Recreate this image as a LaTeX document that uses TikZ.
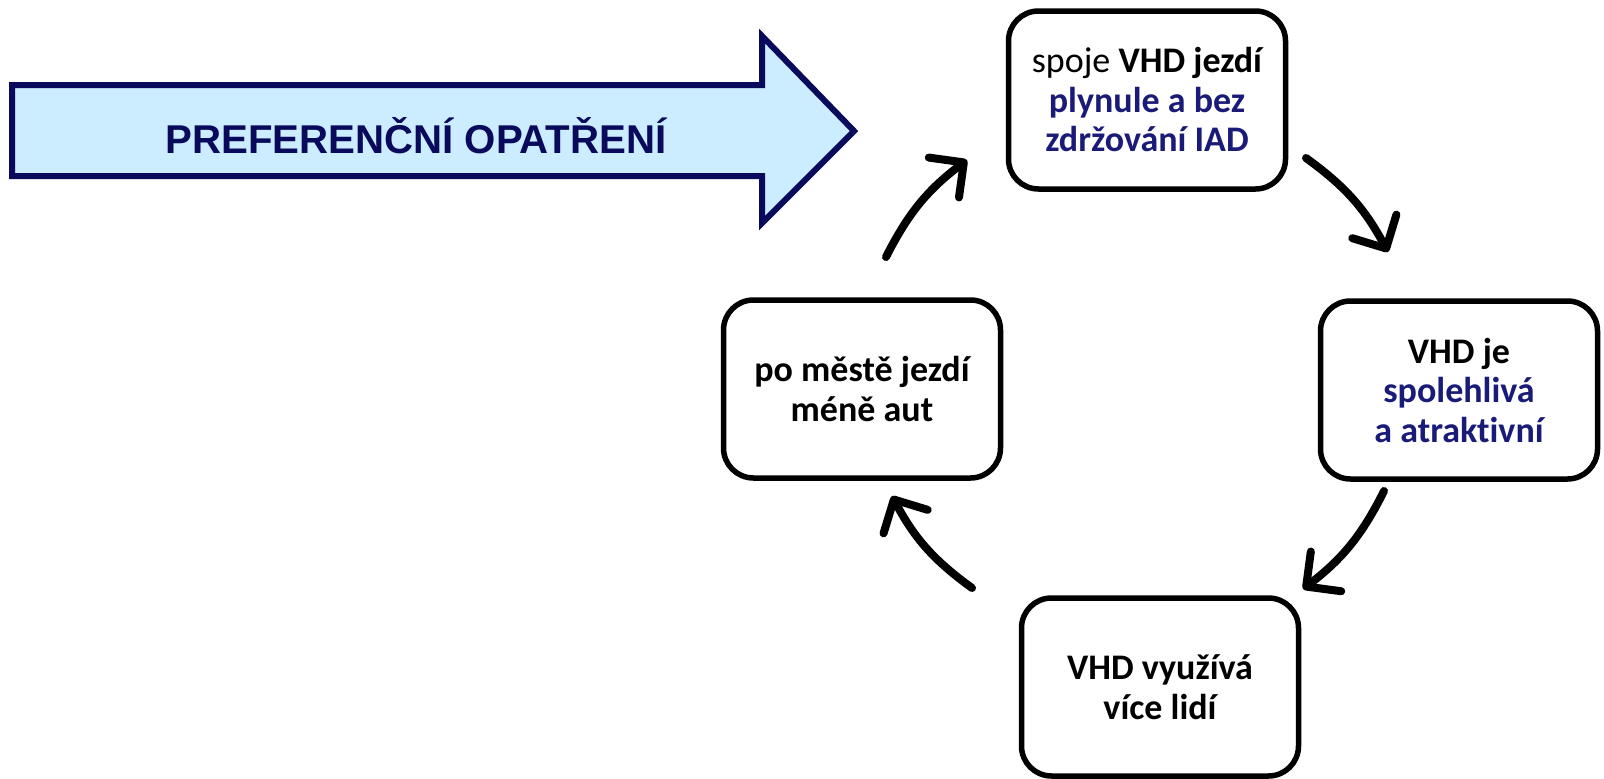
\documentclass[tikz,border=0pt]{standalone}
\usepackage{fontspec}
\setmainfont[Ligatures=NoCommon]{Carlito}
\newfontfamily\arialfont{Liberation Sans}
\usetikzlibrary{arrows.meta}
\definecolor{navytext}{HTML}{1A1A78}
\definecolor{arrownavy}{HTML}{0A0A5C}
\definecolor{arrowfill}{HTML}{CCECFF}
\begin{document}
\begin{tikzpicture}[x=1pt,y=-1pt,
  box/.style={draw=black, line width=5.5pt, rounded corners=30pt,
    minimum width=277pt, minimum height=178pt, align=center,
    font=\fontsize{36}{39.5}\selectfont\bfseries, text=black, fill=white, inner sep=0pt},
  cyc/.style={line width=8pt, line cap=round,
    -{Straight Barb[length=25pt,width=50pt,round]}, bend left=13}]
\useasboundingbox (0,0) rectangle (1604,779);
% big arrow
\draw[draw=arrownavy, fill=arrowfill, line width=6pt, line join=miter]
  (12,85) -- (762,85) -- (762,36) -- (854,131) -- (762,223) -- (762,176) -- (12,176) -- cycle;
\node[font=\arialfont\bfseries\fontsize{40.2}{41}\selectfont, text=arrownavy, anchor=base]
  (pref) at (416,153) {PREFERENČNÍ OPATŘENÍ};
% boxes
\node[box] (top) at (1147,100) {{\mdseries spoje} VHD jezdí\\\textcolor{navytext}{plynule a bez}\\\textcolor{navytext}{zdržování IAD}};
\node[box] (right) at (1459,390) {VHD je\\\textcolor{navytext}{spolehlivá}\\\textcolor{navytext}{a atraktivní}};
\node[box] (left) at (862,389) {po městě jezdí\\méně aut};
\node[box] (bottom) at (1160,687) {VHD využívá\\více lidí};
% cycle arrows
\coordinate (a1s) at (886,257);
\coordinate (a1e) at (967,160);
\coordinate (a2s) at (1306,158);
\coordinate (a2e) at (1388,252);
\coordinate (a3s) at (1384,491);
\coordinate (a3e) at (1303,589);
\coordinate (a4s) at (972,588);
\coordinate (a4e) at (892,496);
\draw[cyc] (a1s) to (a1e);
\draw[cyc] (a2s) to (a2e);
\draw[cyc] (a3s) to (a3e);
\draw[cyc] (a4s) to (a4e);
\end{tikzpicture}
\end{document}
